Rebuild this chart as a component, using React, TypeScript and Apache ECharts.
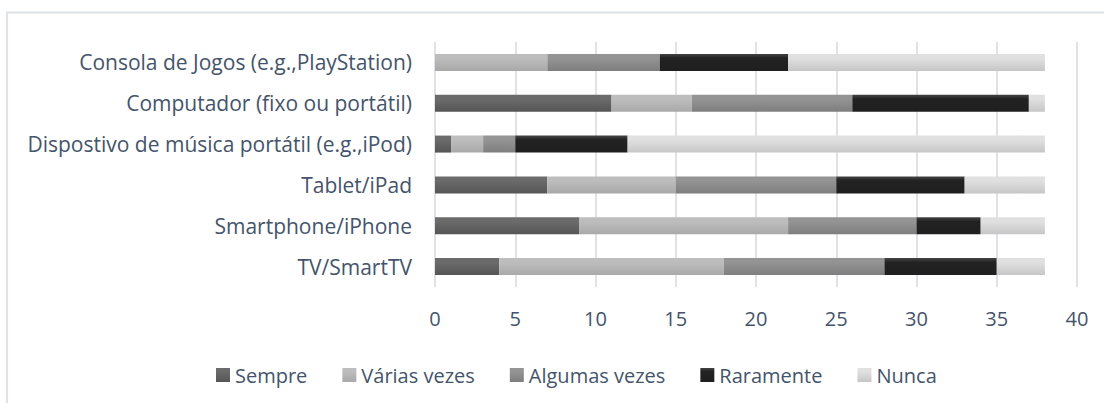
import React, { useEffect, useRef } from "react";
import * as echarts from "echarts";

const categories = [
  "TV/SmartTV",
  "Smartphone/iPhone",
  "Tablet/iPad",
  "Dispostivo de música portátil (e.g.,iPod)",
  "Computador (fixo ou portátil)",
  "Consola de Jogos (e.g.,PlayStation)",
];
const seriesNames = ["Sempre", "Várias vezes", "Algumas vezes", "Raramente", "Nunca"];
const sempre = [4, 9, 7, 1, 11, 0];
const variasVezes = [14, 13, 8, 2, 5, 7];
const algumasVezes = [10, 8, 10, 2, 10, 7];
const raramente = [7, 4, 8, 7, 11, 8];
const nunca = [3, 4, 5, 26, 1, 16];
const xTicks = [0, 5, 10, 15, 20, 25, 30, 35, 40];

const seriesData = [sempre, variasVezes, algumasVezes, raramente, nunca];
const gradients: [string, string][] = [
  ["#6b6b6b", "#555555"],
  ["#bdbdbd", "#a9a9a9"],
  ["#949494", "#7e7e7e"],
  ["#444444", "#1f1f1f"],
  ["#e0e0e0", "#c6c6c6"],
];

const FONT = "Open Sans";
const TEXT = "#44546a";

export default function App() {
  const ref = useRef<HTMLDivElement>(null);
  useEffect(() => {
    if (!ref.current) return;
    const chart = echarts.init(ref.current, null, { renderer: "svg" });
    const grad = (c: [string, string]) =>
      new echarts.graphic.LinearGradient(0, 0, 0, 1, [
        { offset: 0, color: c[0] },
        { offset: 0.25, color: c[0] === "#444444" ? "#222222" : c[0] },
        { offset: 1, color: c[1] },
      ]);
    chart.setOption({
      animation: false,
      backgroundColor: "#ffffff",
      graphic: [
        {
          type: "rect",
          shape: { x: 7, y: 12.5, width: 1110, height: 400 },
          style: { fill: "none", stroke: "#dfe2e6", lineWidth: 2 },
          silent: true,
        },
      ],
      grid: { left: 435, top: 42, width: 642, height: 245, containLabel: false },
      legend: {
        left: 211,
        top: 360,
        itemWidth: 14,
        itemHeight: 14,
        itemGap: 35,
        icon: "rect",
        textStyle: { fontFamily: FONT, fontSize: 20, color: TEXT },
        data: seriesNames,
      },
      xAxis: {
        type: "value",
        min: xTicks[0],
        max: xTicks[xTicks.length - 1],
        interval: 5,
        axisLine: { show: false },
        axisTick: { show: false },
        splitLine: { lineStyle: { color: "#dfe2e8", width: 2 } },
        axisLabel: { fontFamily: FONT, fontSize: 20, color: TEXT, margin: 21 },
      },
      yAxis: {
        type: "category",
        data: categories,
        axisLine: { show: false },
        axisTick: { show: false },
        axisLabel: { fontFamily: FONT, fontSize: 21, color: TEXT, margin: 23 },
      },
      series: seriesNames.map((name, i) => ({
        name,
        type: "bar",
        stack: "total",
        barWidth: 17,
        data: seriesData[i],
        itemStyle: { color: grad(gradients[i]) },
      })),
    });
    return () => chart.dispose();
  }, []);
  return (
    <div
      ref={ref}
      style={{ position: "absolute", left: 0, top: 0, width: 1104, height: 403 }}
    />
  );
}
